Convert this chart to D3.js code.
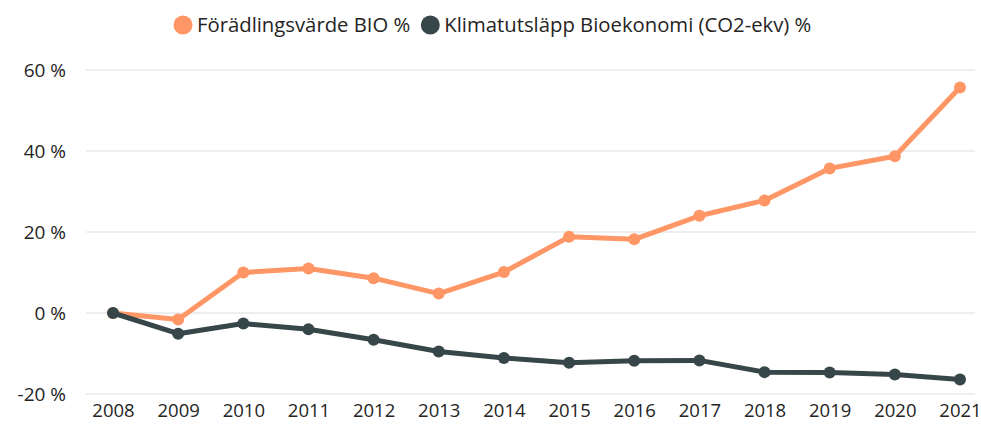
<!DOCTYPE html>
<html>
<head>
<meta charset="utf-8">
<script src="https://cdn.jsdelivr.net/npm/d3@7"></script>
<style>
  body { margin: 0; background: #fff; }
  text { font-family: "Open Sans", "Noto Sans", sans-serif; }
</style>
</head>
<body>
<svg id="chart" width="981" height="424"></svg>
<script>
var data = [
    {year: 2008, bio: 0,    klimat: 0},
    {year: 2009, bio: -1.6, klimat: -5.1},
    {year: 2010, bio: 10.0, klimat: -2.6},
    {year: 2011, bio: 11.0, klimat: -4.0},
    {year: 2012, bio: 8.6,  klimat: -6.6},
    {year: 2013, bio: 4.8,  klimat: -9.5},
    {year: 2014, bio: 10.1, klimat: -11.1},
    {year: 2015, bio: 18.8, klimat: -12.3},
    {year: 2016, bio: 18.2, klimat: -11.8},
    {year: 2017, bio: 24.0, klimat: -11.7},
    {year: 2018, bio: 27.8, klimat: -14.6},
    {year: 2019, bio: 35.7, klimat: -14.7},
    {year: 2020, bio: 38.7, klimat: -15.2},
    {year: 2021, bio: 55.7, klimat: -16.4}
];

var series = [
    {key: "bio", name: "Förädlingsvärde BIO %", color: "#FE9666"},
    {key: "klimat", name: "Klimatutsläpp Bioekonomi (CO2-ekv) %", color: "#374649"}
];

var svg = d3.select("#chart");

var xScale = d3.scalePoint().domain(data.map(function(d){ return d.year; })).range([113, 960]);
var yScale = d3.scaleLinear().domain([-20, 60]).range([394, 70]);

// gridlines
svg.append("g")
    .selectAll("line")
    .data(yScale.ticks(4))
    .enter()
    .append("line")
    .attr("x1", 86)
    .attr("x2", 975)
    .attr("y1", function(d){ return yScale(d); })
    .attr("y2", function(d){ return yScale(d); })
    .attr("stroke", "#e9e9e9")
    .attr("stroke-width", 1.5);

var yAxis = d3.axisLeft(yScale).ticks(4).tickSize(0).tickPadding(0)
    .tickFormat(function(d){ return d + " %"; });
var yG = svg.append("g").attr("transform", "translate(66,0)").call(yAxis);
yG.select(".domain").remove();
yG.selectAll("text").attr("font-size", 19).attr("fill", "#252423")
    .style("font-family", "'Open Sans', sans-serif");

var xAxis = d3.axisBottom(xScale).tickSize(0).tickPadding(0);
var xG = svg.append("g").attr("transform", "translate(0,404)").call(xAxis);
xG.select(".domain").remove();
xG.selectAll("text").attr("font-size", 18.5).attr("fill", "#252423")
    .style("font-family", "'Open Sans', sans-serif");

series.forEach(function(s) {
    var line = d3.line()
        .x(function(d){ return xScale(d.year); })
        .y(function(d){ return yScale(d[s.key]); });

    svg.append("path")
        .datum(data)
        .attr("d", line)
        .attr("fill", "none")
        .attr("stroke", s.color)
        .attr("stroke-width", 5)
        .attr("stroke-linejoin", "round");

    svg.append("g").selectAll("circle")
        .data(data)
        .enter()
        .append("circle")
        .attr("cx", function(d){ return xScale(d.year); })
        .attr("cy", function(d){ return yScale(d[s.key]); })
        .attr("r", 6)
        .attr("fill", s.color);
});

// legend
var legend = svg.append("g");
var lx = 183;
series.forEach(function(s) {
    legend.append("circle")
        .attr("cx", lx)
        .attr("cy", 25)
        .attr("r", 9.5)
        .attr("fill", s.color);
    var t = legend.append("text")
        .text(s.name)
        .attr("x", lx + 14)
        .attr("y", 32)
        .attr("font-size", 20.3)
        .attr("fill", "#252423");
    lx = lx + 14 + t.node().getComputedTextLength() + 20;
});
</script>
</body>
</html>
